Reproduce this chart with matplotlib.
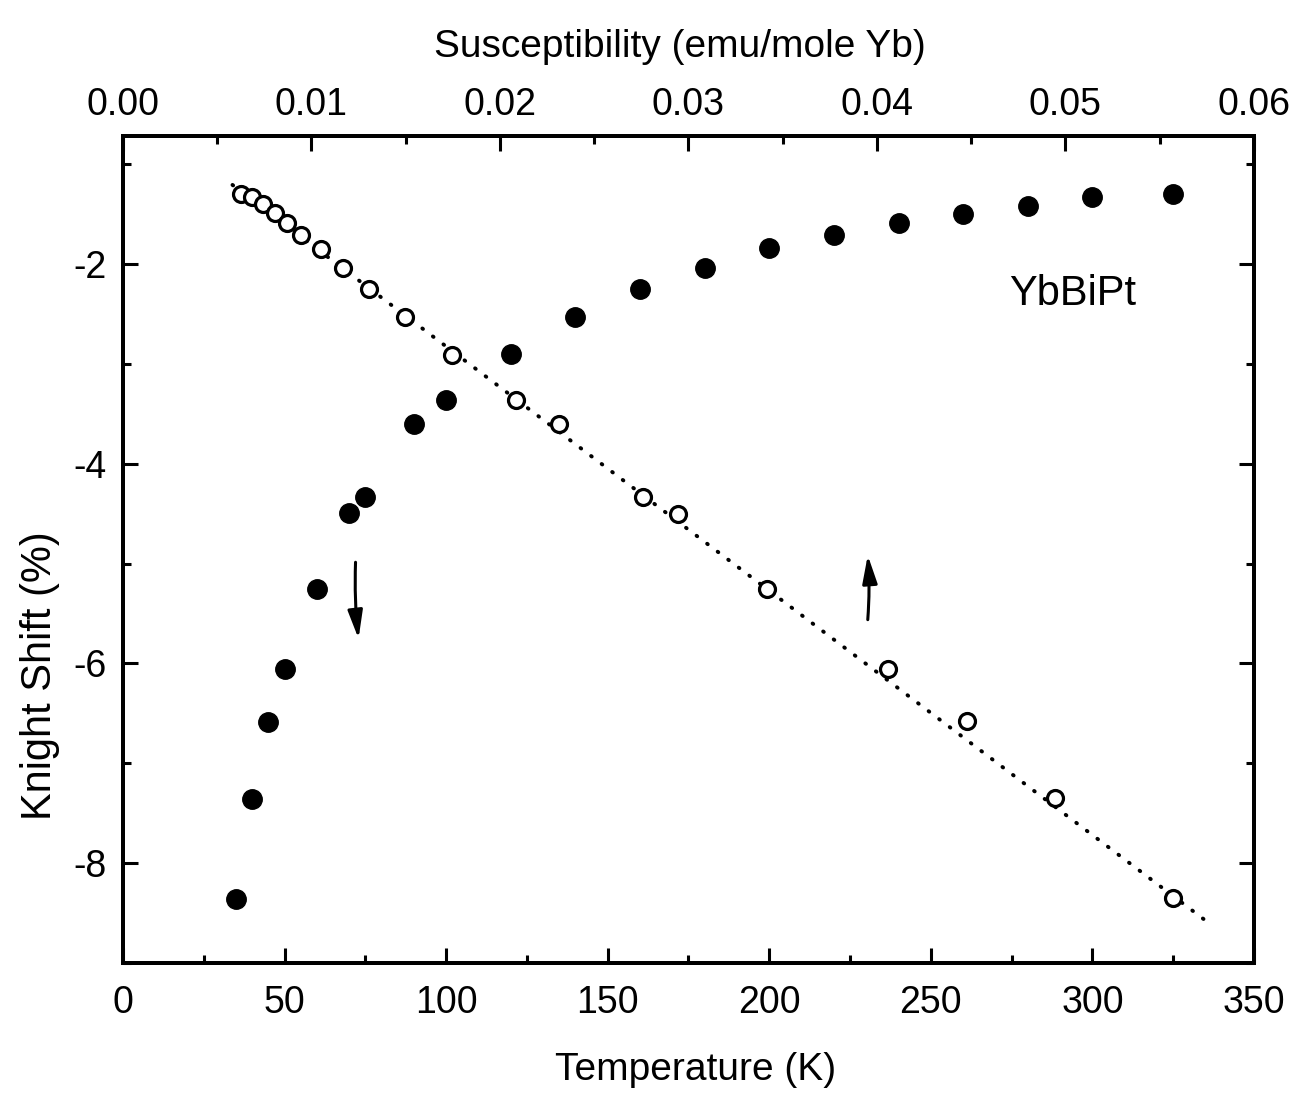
import numpy as np
import matplotlib
matplotlib.use('Agg')
import matplotlib.pyplot as plt
from matplotlib.ticker import MultipleLocator, FormatStrFormatter

# Knight shift vs temperature (filled circles, bottom axis)
temp = [35, 40, 45, 50, 60, 70, 75, 90, 100, 120, 140, 160, 180, 200, 220, 240, 260, 280, 300, 325]
ks_temp = [-8.36, -7.36, -6.59, -6.06, -5.26, -4.49, -4.33, -3.60, -3.36, -2.90,
           -2.53, -2.25, -2.04, -1.84, -1.71, -1.59, -1.50, -1.42, -1.33, -1.30]

# Knight shift vs susceptibility (open circles, top axis)
chi = [0.00628, 0.00686, 0.00744, 0.00808, 0.00871, 0.00944, 0.01049, 0.01165, 0.01307, 0.01496,
       0.01743, 0.02085, 0.02311, 0.02757, 0.02947, 0.03414, 0.04061, 0.04475, 0.04947, 0.0557]
ks_chi = [-1.30, -1.33, -1.40, -1.49, -1.59, -1.71, -1.85, -2.04, -2.25, -2.53,
          -2.91, -3.36, -3.60, -4.33, -4.50, -5.26, -6.06, -6.58, -7.35, -8.35]

# linear fit line (dotted)
fit_chi = [0.00581, 0.05754]
fit_ks = [-1.21, -8.59]

plt.rcParams['font.family'] = ['Liberation Sans', 'DejaVu Sans']
plt.rcParams['axes.linewidth'] = 2.8
plt.rcParams['axes.unicode_minus'] = False

fig = plt.figure(figsize=(13, 10.94), dpi=100)
ax = fig.add_axes([0.0946, 0.1197, 0.87, 0.756])
ax2 = ax.twiny()

ax.plot(temp, ks_temp, 'o', color='black', markersize=14, zorder=3)
ax2.plot(fit_chi, fit_ks, color='black', lw=2.8, linestyle=(0, (0.2, 3.2)),
         dash_capstyle='round', zorder=2)
ax2.plot(chi, ks_chi, 'o', mfc='white', mec='black', mew=2.3, markersize=11.5, zorder=3)

ax.set_xlim(0, 350)
ax.set_ylim(-9.0, -0.72)
ax2.set_xlim(0, 0.06)

ax.xaxis.set_major_locator(MultipleLocator(50))
ax.xaxis.set_minor_locator(MultipleLocator(25))
ax.yaxis.set_major_locator(MultipleLocator(2))
ax.yaxis.set_minor_locator(MultipleLocator(1))
ax2.xaxis.set_major_locator(MultipleLocator(0.01))
ax2.xaxis.set_minor_locator(MultipleLocator(0.005))
ax2.xaxis.set_major_formatter(FormatStrFormatter('%.2f'))

ax.tick_params(axis='both', which='both', direction='in', labelsize=27, width=2.2)
ax.tick_params(axis='y', which='both', right=True)
ax.tick_params(axis='y', which='major', length=11, pad=12)
ax.tick_params(axis='y', which='minor', length=6)
ax.tick_params(axis='x', which='major', length=11, pad=16)
ax.tick_params(axis='x', which='minor', length=6)
ax2.tick_params(axis='x', which='both', direction='in', labelsize=27, width=2.2)
ax2.tick_params(axis='x', which='major', length=11, pad=9)
ax2.tick_params(axis='x', which='minor', length=6)

ax.set_xlabel('Temperature (K)', fontsize=28)
ax.set_ylabel('Knight Shift (%)', fontsize=30)
ax2.set_xlabel('Susceptibility (emu/mole Yb)', fontsize=28)
ax.xaxis.set_label_coords(0.506, -0.108)
ax.yaxis.set_label_coords(-0.056, 0.348)
ax2.xaxis.set_label_coords(0.4925, 1.095)

ax.text(294, -2.3, 'YbBiPt', fontsize=30, ha='center', va='center')

# arrows pointing to the relevant axis
arrow = dict(arrowstyle='-|>,head_length=1.7,head_width=0.45',
             color='black', lw=2.2, connectionstyle='arc3,rad=0.04')
ax.annotate('', xy=(73, -5.78), xytext=(72, -4.96), arrowprops=arrow)
ax2.annotate('', xy=(0.0395, -4.89), xytext=(0.0395, -5.59), arrowprops=arrow)

fig.savefig('out.png', dpi=100)
